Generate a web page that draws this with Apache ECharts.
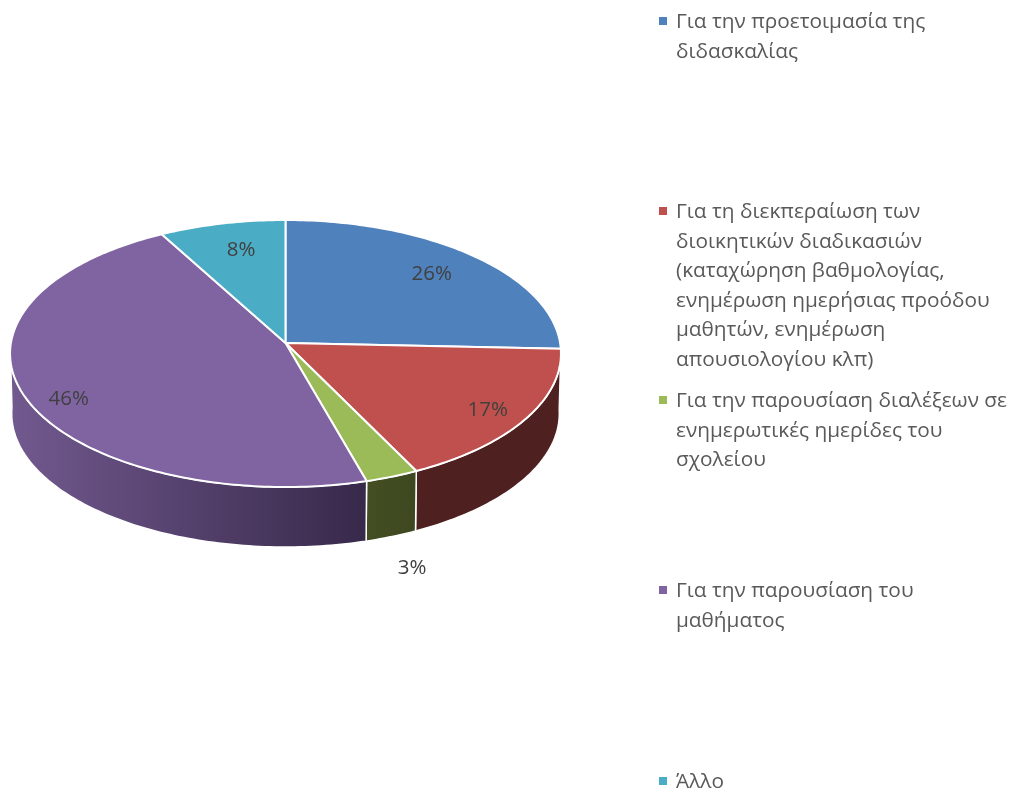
<!DOCTYPE html>
<html>
<head>
<meta charset="utf-8">
<style>
  html, body { margin: 0; padding: 0; background: #fff; }
  #chart { width: 1013px; height: 791px; }
</style>
<script src="https://cdn.jsdelivr.net/npm/echarts@6/dist/echarts.min.js"></script>
</head>
<body>
<div id="chart"></div>
<script>
// categories, one string per legend line
const categories = [
  ['Για την προετοιμασία της', 'διδασκαλίας'],
  ['Για τη διεκπεραίωση των', 'διοικητικών διαδικασιών', '(καταχώρηση βαθμολογίας,', 'ενημέρωση ημερήσιας προόδου', 'μαθητών, ενημέρωση', 'απουσιολογίου κλπ)'],
  ['Για την παρουσίαση διαλέξεων σε', 'ενημερωτικές ημερίδες του', 'σχολείου'],
  ['Για την παρουσίαση του', 'μαθήματος'],
  ['Άλλο']
];
const shares = [25.7, 17.0, 2.9, 46.4, 8.0];

const topColors = ['#4f81bd', '#c0504d', '#9bbb59', '#8064a2', '#4bacc6'];
const wallColors = [
  ['#2a4566', '#2a4566'],
  ['#4e201f', '#4e201f'],
  ['#434e22', '#3e4820'],
  ['#72598f', '#37294a'],
  ['#286070', '#286070']
];
// label offset from the middle of the slice's rim, px
const labelNudge = [[-42, 18], [-38, -9], [20, 92], [45, 4], [19, 27]];
const legendTops = [21, 211, 400, 590, 781];

// tilted disc: circle seen in perspective
const disc = { cx: 285.5, cy: 343, a: 274.6, b: 132.7, k: 0.0787, depth: 60 };
const wallFrom = 93, wallTo = 268;

function rim(deg, drop) {
  const t = deg * Math.PI / 180;
  const X = Math.sin(t), Y = -Math.cos(t);
  const d = 1 - disc.k * Y;
  const shrink = drop ? 0.994 : 1;
  return [
    disc.cx + shrink * disc.a * X / d,
    disc.cy + disc.b * Y / d + (drop ? disc.depth : 0)
  ];
}

const total = shares.reduce((s, v) => s + v, 0);
const starts = [];
shares.reduce((s, v, i) => { starts[i] = s; return s + v; }, 0);
const toDeg = v => v / total * 360;

function arc(from, to, drop) {
  const pts = [];
  const n = Math.max(2, Math.ceil(to - from));
  for (let i = 0; i <= n; i++) pts.push(rim(from + (to - from) * i / n, drop));
  return pts;
}

function renderWall(params, api) {
  const i = params.dataIndex;
  const from = Math.max(toDeg(starts[i]), wallFrom);
  const to = Math.min(toDeg(starts[i] + api.value(0)), wallTo);
  if (to <= from) return null;
  return {
    type: 'polygon',
    shape: { points: arc(from, to, false).concat(arc(from, to, true).reverse()) },
    style: {
      fill: {
        type: 'linear', x: 0, y: 0, x2: 1, y2: 0,
        colorStops: [
          { offset: 0, color: wallColors[i][0] },
          { offset: 1, color: wallColors[i][1] }
        ]
      },
      stroke: '#fff',
      lineWidth: 1.5
    }
  };
}

function renderTop(params, api) {
  const i = params.dataIndex;
  const value = api.value(0);
  const from = toDeg(starts[i]);
  const to = toDeg(starts[i] + value);
  const mid = rim((from + to) / 2, false);
  return {
    type: 'group',
    children: [
      {
        type: 'polygon',
        shape: { points: [[disc.cx, disc.cy]].concat(arc(from, to, false)) },
        style: { fill: topColors[i], stroke: '#fff', lineWidth: 2, lineJoin: 'round' }
      },
      {
        type: 'text',
        z2: 10,
        style: {
          x: mid[0] + labelNudge[i][0],
          y: mid[1] + labelNudge[i][1],
          text: Math.round(value) + '%',
          fill: '#404040',
          font: '20.5px "Open Sans"',
          textAlign: 'center',
          textVerticalAlign: 'middle'
        }
      }
    ]
  };
}

const legendGraphics = [];
categories.forEach((lines, i) => {
  legendGraphics.push({
    type: 'rect', left: 659, top: legendTops[i] - 4,
    shape: { width: 8, height: 8 }, style: { fill: topColors[i] }
  });
  lines.forEach((line, j) => {
    legendGraphics.push({
      type: 'text', left: 676, top: legendTops[i] + j * 29.6 - 14,
      style: { text: line, fill: '#595959', font: '20.8px "Open Sans"', lineHeight: 30 }
    });
  });
});

const chart = echarts.init(document.getElementById('chart'), null, { renderer: 'canvas' });
chart.setOption({
  animation: false,
  backgroundColor: '#fff',
  graphic: legendGraphics,
  series: [
    { type: 'custom', coordinateSystem: 'none', silent: true, renderItem: renderWall, data: shares, z: 1 },
    { type: 'custom', coordinateSystem: 'none', silent: true, renderItem: renderTop, data: shares, z: 2 }
  ]
});
</script>
</body>
</html>
